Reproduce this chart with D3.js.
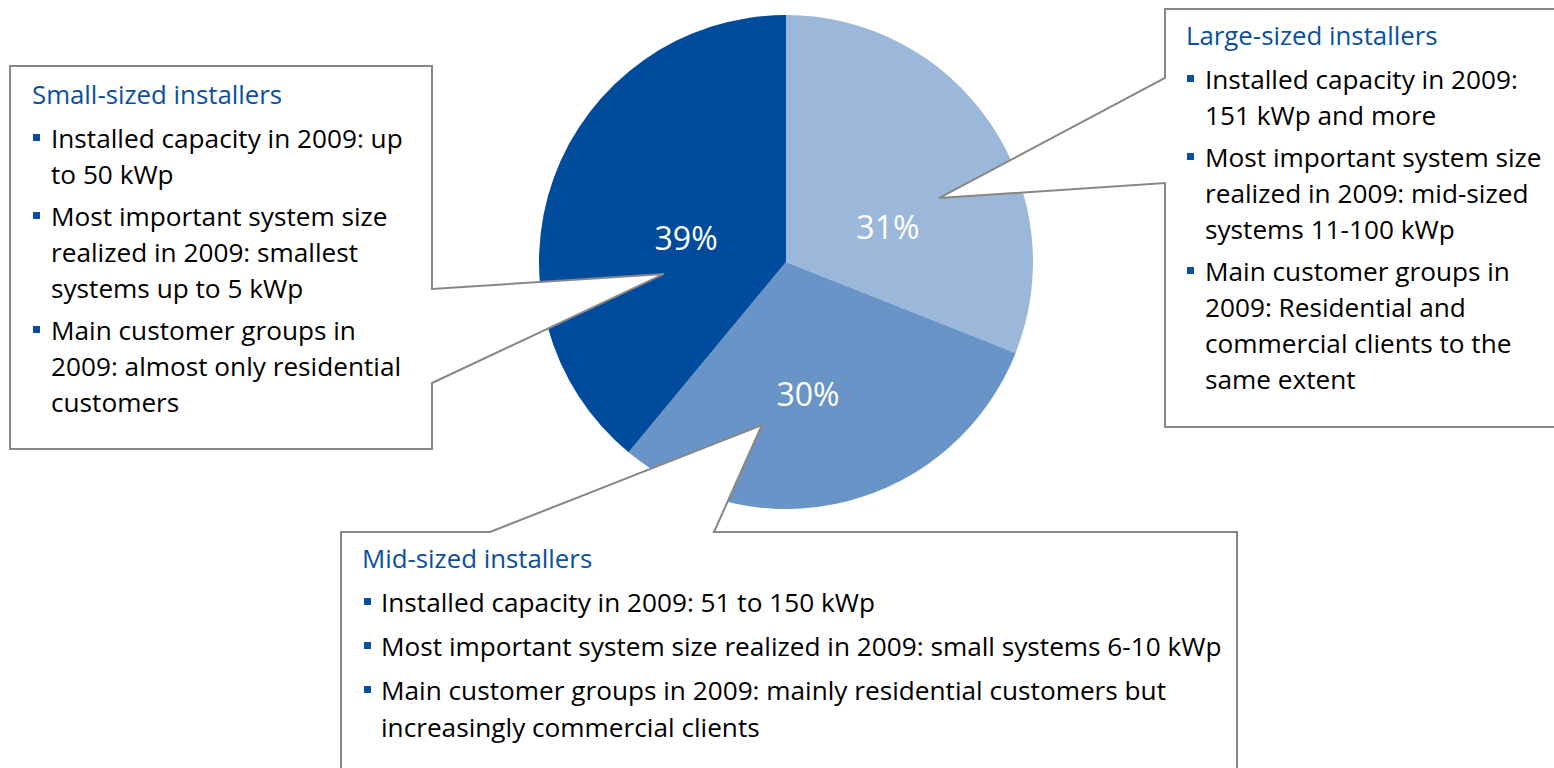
<!DOCTYPE html>
<html>
<head>
<meta charset="utf-8">
<script src="https://cdn.jsdelivr.net/npm/d3@7"></script>
<style>
  html, body { margin: 0; padding: 0; background: #fff; }
  svg { display: block; }
  text { font-family: "Open Sans", "Noto Sans", sans-serif; }
</style>
</head>
<body>
<svg id="chart" width="1554" height="768"></svg>
<script>
// Share of installers by size class, 2009 (percent)
const categories = ["Large-sized installers", "Mid-sized installers", "Small-sized installers"];
const shares = [31, 30, 39];
const sliceColors = ["#9bb8da", "#6894c7", "#004b9c"];

// Callout texts: one list of wrapped lines per bullet
const largeBullets = [
  ["Installed capacity in 2009:", "151 kWp and more"],
  ["Most important system size", "realized in 2009: mid-sized", "systems 11-100 kWp"],
  ["Main customer groups in", "2009: Residential and", "commercial clients to the", "same extent"]
];
const midBullets = [
  ["Installed capacity in 2009: 51 to 150 kWp"],
  ["Most important system size realized in 2009: small systems 6-10 kWp"],
  ["Main customer groups in 2009: mainly residential customers but", "increasingly commercial clients"]
];
const smallBullets = [
  ["Installed capacity in 2009: up", "to 50 kWp"],
  ["Most important system size", "realized in 2009: smallest", "systems up to 5 kWp"],
  ["Main customer groups in", "2009: almost only residential", "customers"]
];

const svg = d3.select("#chart");
const cx = 786, cy = 262, R = 247;
const deg = Math.PI / 180;

const pie = d3.pie().sort(null).value(d => d.value);
const arcs = pie(categories.map((c, i) => ({ name: c, value: shares[i], color: sliceColors[i] })));
const arc = d3.arc().innerRadius(0).outerRadius(R);

const g = svg.append("g").attr("transform", `translate(${cx},${cy})`);
g.selectAll("path.slice")
  .data(arcs)
  .join("path")
  .attr("class", "slice")
  .attr("d", arc)
  .attr("fill", d => d.data.color);

// Percentage labels, placed inside each slice (angle in degrees, radius)
const labelPlace = {
  "Large-sized installers": [70.6, 108],
  "Mid-sized installers": [170.5, 133],
  "Small-sized installers": [284, 103]
};
g.selectAll("text.pct")
  .data(arcs)
  .join("text")
  .attr("class", "pct")
  .each(function (d) {
    const [a, r] = labelPlace[d.data.name];
    const [x, y] = d3.pointRadial(a * deg, r);
    d3.select(this).attr("x", x).attr("y", y);
  })
  .attr("text-anchor", "middle")
  .attr("dominant-baseline", "central")
  .attr("fill", "#fff")
  .attr("font-size", 32)
  .text(d => d.value + "%");

// Callout boxes: a rectangle whose one side opens into a pointer reaching into the pie
function tip(angleDeg, r) {
  const [x, y] = d3.pointRadial(angleDeg * deg, r);
  return [cx + x, cy + y];
}
const line = d3.line();
const stroke = "#878787";

function callout(points) {
  svg.append("path")
    .attr("d", line(points) + "Z")
    .attr("fill", "#fff")
    .attr("stroke", stroke)
    .attr("stroke-width", 2)
    .attr("stroke-linejoin", "miter");
}

// Small-sized installers (left)
callout([[10, 66], [432, 66], [432, 289], tip(264.4, 122.6), [432, 383], [432, 449], [10, 449]]);
// Large-sized installers (right)
callout([[1165, 9], [1570, 9], [1570, 427], [1165, 427], [1165, 183], tip(67.3, 165.8), [1165, 78]]);
// Mid-sized installers (bottom)
callout([[341, 532], [490, 532], tip(188.4, 164.8), [714, 532], [1237, 532], [1237, 790], [341, 790]]);

const headColor = "#0a4f9f";
const textColor = "#000";

function boxText(x0, headY, heading, bullets, opts) {
  const tg = svg.append("g");
  tg.append("text")
    .attr("x", x0)
    .attr("y", headY)
    .attr("fill", headColor)
    .attr("font-size", opts.headSize)
    .text(heading);
  let y = headY + opts.firstGap;
  bullets.forEach(lines => {
    tg.append("rect")
      .attr("x", x0 + opts.bulletDx)
      .attr("y", y - 14)
      .attr("width", 7)
      .attr("height", 7)
      .attr("fill", headColor);
    lines.forEach((t, i) => {
      tg.append("text")
        .attr("x", x0 + opts.textDx)
        .attr("y", y)
        .attr("fill", textColor)
        .attr("font-size", opts.fontSize)
        .text(t);
      if (i < lines.length - 1) y += opts.lineH;
    });
    y += opts.bulletH;
  });
}

const style = { headSize: 25.8, fontSize: 26.2, firstGap: 44, bulletDx: 1, textDx: 19, lineH: 36, bulletH: 42 };
boxText(32, 104, categories[2], smallBullets, style);
boxText(1186, 45, categories[0], largeBullets, style);
boxText(362, 568, categories[1], midBullets, { headSize: 25.8, fontSize: 26.2, firstGap: 44, bulletDx: 2, textDx: 19, lineH: 37, bulletH: 44 });
</script>
</body>
</html>
